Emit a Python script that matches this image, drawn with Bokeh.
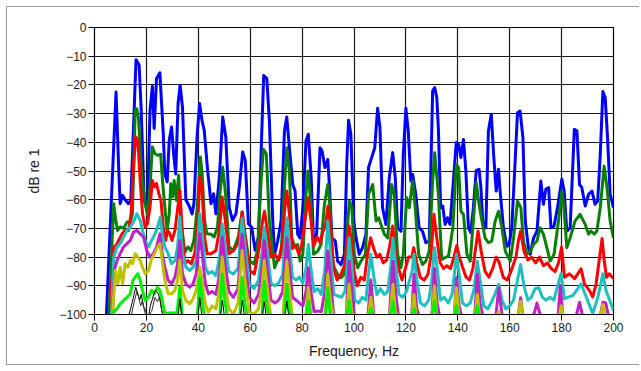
from bokeh.plotting import figure
from bokeh.models import Range1d, FixedTicker
from bokeh.embed import file_html
from bokeh.resources import INLINE

# ---- data: (frequency Hz, dB) vertices ----
blue = [(4.5,-102),(8.3,-22.5),(9.3,-48.6),(9.9,-61.4),(10.8,-58.5),(11.8,-60),(13.1,-61.4),(14.0,-60),
 (16.0,-11.2),(17.2,-13.1),(18.0,-28.8),(19.1,-59.7),(19.9,-62.6),(20.5,-59),(21.4,-28.8),(22.3,-20.5),
 (23.0,-35.2),(23.9,-17.8),(25.2,-15.8),(26.5,-37),(27.1,-51),(28.0,-53.8),(28.8,-39.3),(29.7,-34.7),
 (30.6,-45),(31.3,-51),(32.2,-26.5),(33.0,-20.1),(33.9,-27.7),(35.2,-60),(36.7,-62.6),(37.6,-65),
 (38.3,-61.4),(39.6,-37),(40.5,-26.5),(41.4,-32.3),(42.3,-35.9),(43.6,-49.8),(44.9,-61.4),(45.9,-57.9),
 (46.8,-64.9),(48.1,-52.2),(49.4,-31.2),(50.6,-38.2),(51.9,-62.6),(53.2,-67.2),(54.5,-64.9),(55.8,-55.6),
 (57.1,-43.4),(58.1,-46.3),(59.3,-68.4),(60.6,-69.6),(61.9,-77.6),(63.2,-73),(64.4,-38.2),(65.2,-16.7),
 (66.4,-17.8),(67.4,-32.6),(68.7,-67.4),(69.4,-79),(70.6,-74.4),(71.9,-67.4),(73.2,-36),(74.1,-31.2),
 (75.1,-41.9),(76.4,-54.7),(77.3,-57),(78.3,-72),(79.2,-73.3),(80.3,-62.8),(81.5,-39.5),(82.4,-37.2),
 (83.5,-52.3),(84.4,-74.4),(85.6,-72),(86.9,-41.9),(87.7,-43),(88.8,-48.8),(89.9,-46),(90.5,-54.7),
 (91.5,-73.3),(92.8,-74.4),(93.7,-81.4),(95.0,-82.6),(96.3,-79),(97.2,-47.7),(97.9,-32.3),(98.8,-37.2),
 (99.9,-67.4),(100.8,-73.3),(102.0,-79),(103.3,-76.7),(104.6,-72),(105.6,-48.8),(107.2,-44.2),(108.0,-41.9),
 (109.1,-28.1),(110.0,-34.9),(111.0,-62.8),(112.3,-68.6),(113.6,-52.3),(114.9,-43.6),(115.9,-52.3),
 (116.8,-69.8),(118.1,-71),(119.0,-44.2),(120.0,-28.1),(120.9,-36),(121.9,-53.5),(122.6,-51.2),
 (123.8,-58.1),(125.1,-69.8),(126.4,-71),(127.7,-75),(129.0,-74.4),(130.3,-22.1),(131.1,-20.9),
 (131.9,-24.4),(132.5,-34.9),(133.4,-62.8),(134.2,-62.2),(135.1,-68.6),(136.0,-66.3),(137.0,-68.6),
 (138.3,-53.5),(139.4,-40.1),(140.3,-40.7),(141.2,-45.3),(142.2,-39),(143.1,-50),(144.1,-69.8),
 (145.0,-71.5),(146.0,-62.8),(147.1,-49.8),(148.2,-49.4),(148.9,-55.8),(149.6,-67.4),(150.8,-69.8),
 (151.8,-36),(152.9,-30.2),(153.8,-44.2),(154.8,-57),(155.7,-49.4),(156.3,-57),(157.6,-69.8),
 (158.9,-76.2),(159.8,-75.6),(160.8,-69.8),(162.1,-46.5),(163.0,-29.7),(164.0,-29.1),(165.1,-38.4),
 (166.0,-67.4),(167.2,-76.7),(167.9,-79),(169.2,-73.3),(170.5,-71),(172.0,-53.5),(173.0,-61.6),
 (173.9,-56.4),(175.0,-55.8),(175.9,-69.8),(177.1,-69.2),(178.4,-62.8),(180.1,-52.9),(181.0,-57),
 (182.0,-71),(183.3,-69.8),(184.9,-35.5),(185.9,-36),(186.9,-54.7),(187.8,-55.8),(189.1,-62.2),
 (190.4,-58.1),(191.7,-57),(192.9,-61.6),(193.9,-60.5),(194.9,-44.2),(195.9,-22.3),(196.8,-24.4),
 (197.7,-38.4),(198.7,-58.1),(200.0,-62.8)]

green = [(5.5,-102),(7.4,-61.4),(8.3,-67.8),(8.9,-70.7),(9.9,-69.5),(11.2,-70),(12.5,-67.8),(13.8,-67.8),
 (14.6,-65),(15.7,-28.8),(16.3,-28.3),(16.9,-31.2),(18.2,-51),(19.5,-61.4),(20.4,-65),(21.4,-55.6),
 (22.3,-41.6),(23.3,-44),(24.3,-44.5),(25.5,-44.2),(26.2,-53.3),(27.1,-62.6),(28.0,-70.7),(28.8,-65),
 (29.4,-54.4),(30.1,-59),(30.7,-53.3),(31.6,-60.2),(32.4,-51.5),(33.2,-67.2),(33.9,-71.9),(34.8,-78.3),
 (36.0,-76.5),(37.1,-77.7),(38.3,-74.2),(39.6,-62.6),(40.8,-45.1),(41.5,-51),(42.4,-67.2),(43.3,-71.9),
 (44.9,-72),(46.1,-73),(47.4,-69.6),(48.3,-58),(49.4,-48.7),(50.5,-58),(51.8,-76.5),(53.5,-77.7),
 (55.4,-73),(56.9,-64.3),(58.0,-71.9),(59.5,-81.2),(61.5,-82.4),(62.8,-77.7),(64.2,-53.3),(65.1,-42.4),
 (66.2,-44),(67.4,-67.4),(69.4,-83.7),(70.6,-80.8),(71.9,-79),(73.2,-55.8),(74.1,-41.9),(75.1,-50),
 (76.0,-73.3),(77.1,-76.2),(78.3,-75.6),(79.2,-81.4),(80.3,-79),(81.5,-58.1),(82.3,-50),(83.5,-62.8),
 (84.4,-79),(86.0,-78),(87.3,-75.6),(88.6,-61.6),(89.9,-54.7),(90.8,-62.8),(91.8,-82.6),(93.7,-86),
 (95.0,-87.2),(96.3,-86),(97.2,-73.3),(98.2,-60.5),(99.2,-62.8),(100.1,-79),(101.4,-83.7),(102.7,-81.4),
 (104.4,-79),(105.6,-58.1),(107.2,-54.7),(108.5,-67.4),(109.5,-66.3),(110.4,-68.6),(111.7,-72),
 (113.0,-73.3),(114.5,-54.7),(115.5,-58.1),(116.8,-79),(118.1,-83.7),(119.0,-79),(120.3,-59.3),
 (121.3,-62.8),(122.6,-53.5),(123.6,-62.8),(124.9,-79),(126.4,-82.6),(127.7,-81.4),(129.0,-77.9),
 (130.3,-53.5),(131.1,-43.6),(132.5,-58),(133.8,-80.8),(135.1,-80.2),(136.4,-79.7),(138.1,-69.8),
 (139.4,-47.7),(140.3,-48.8),(141.2,-64),(142.2,-65.1),(143.5,-79),(144.8,-81.4),(146.0,-67.4),
 (147.1,-54),(148.2,-61.6),(149.3,-67.4),(150.5,-73.3),(151.8,-75),(153.1,-74.4),(154.4,-67.4),
 (155.7,-64),(157.0,-69.8),(158.3,-77.9),(160.2,-81.4),(161.5,-73.3),(163.0,-60.5),(164.3,-62.8),
 (165.3,-74.4),(166.6,-79),(167.9,-77.9),(169.2,-75.6),(170.5,-74.4),(171.7,-69.8),(173.0,-72),
 (174.3,-76.7),(175.6,-81.4),(177.1,-79),(178.8,-67.4),(180.1,-57),(181.0,-64),(182.0,-76.7),
 (183.3,-73.3),(185.2,-67.4),(187.1,-65.1),(189.1,-68.6),(190.4,-72),(191.3,-70.9),(192.6,-72),
 (193.6,-70.9),(194.9,-62.8),(196.4,-48.3),(197.5,-55.8),(198.7,-67.4),(200.0,-73.3)]

red = [(6.0,-102),(7.4,-76.5),(8.3,-76),(9.3,-74.2),(10.6,-71.9),(11.8,-70.7),(13.1,-70.7),(14.1,-64.9),
 (15.0,-48.6),(15.9,-38.1),(16.7,-39.3),(17.6,-53.3),(18.5,-64.9),(19.5,-69.5),(20.4,-68.4),(21.4,-62.6),
 (22.3,-53.3),(23.1,-55.6),(23.9,-54.4),(24.8,-57.9),(25.6,-60.2),(26.5,-69.5),(27.4,-74.2),(28.2,-70.7),
 (29.0,-71.9),(29.9,-74.2),(31.0,-70.7),(31.8,-64.9),(32.9,-56.7),(33.8,-70.7),(34.8,-82.3),(36.0,-81.2),
 (37.3,-82.3),(38.6,-78.8),(39.6,-71.9),(40.6,-51.9),(41.4,-55.6),(42.4,-73),(43.4,-78.8),(44.9,-78.8),
 (46.8,-77.7),(48.2,-70),(49.2,-59.1),(50.4,-67.2),(51.8,-78.8),(53.6,-77.7),(55.5,-75),(56.9,-64.3),
 (58.0,-73),(59.8,-84.7),(61.6,-85.9),(63.5,-76.5),(64.8,-67.2),(65.5,-64),(66.8,-72),(68.0,-80),
 (69.5,-79),(71.0,-81),(72.4,-75),(73.3,-63),(74.1,-57),(75.1,-65),(76.3,-77),(77.5,-76),(78.8,-79),
 (79.8,-76),(81.3,-66),(82.4,-59.3),(83.4,-67),(84.5,-76),(85.8,-73),(87.0,-75),(88.0,-71),(89.0,-69),
 (90.0,-62.2),(91.0,-70),(92.2,-84),(93.5,-88),(95.0,-86),(96.3,-83),(97.2,-76),(98.1,-69.2),(99.0,-74),
 (100.0,-85),(101.3,-90),(102.6,-87),(104.0,-88),(105.2,-79),(106.4,-73.3),(107.6,-77),(108.8,-80),
 (110.0,-79),(111.2,-82),(112.6,-81),(113.8,-76),(114.9,-69.2),(116.0,-78),(117.2,-84),(118.5,-88),
 (119.8,-84),(121.0,-80),(122.3,-80),(123.0,-76.7),(124.2,-82),(125.5,-87),(127.0,-88),(128.5,-86),
 (129.6,-80),(130.8,-65.1),(132.0,-74),(133.2,-82),(134.5,-84),(135.8,-83),(137.2,-84),(138.5,-80),
 (139.6,-76),(140.6,-80),(142.0,-84),(143.2,-87),(144.5,-88),(145.8,-84),(147.0,-76),(147.8,-70.9),
 (149.0,-78),(150.5,-85),(152.0,-87),(153.4,-84),(154.8,-80),(156.0,-82),(157.5,-87),(159.0,-88),
 (160.5,-85),(162.4,-80),(163.4,-74),(164.2,-70.9),(165.5,-78),(167.0,-81),(168.4,-80),(170.0,-82),
 (171.5,-80),(173.0,-83),(174.5,-82),(176.0,-84),(177.5,-85),(178.8,-82),(180.0,-76.5),(181.1,-87),
 (183.0,-85.8),(185.0,-87.5),(187.5,-84.1),(188.8,-89.3),(190.7,-91.6),(192.0,-93.9),(193.3,-89.3),
 (195.6,-73.5),(196.4,-81.1),(197.3,-87),(198.4,-85.8),(200.0,-87.5)]

cyan = [(6.5,-102),(7.4,-80),(8.7,-76.5),(9.9,-75.3),(11.2,-73),(12.5,-70.7),(13.8,-69.5),(15.0,-67.8),
 (16.3,-64.9),(17.6,-67.2),(18.5,-70.7),(19.5,-74.2),(20.8,-76.5),(22.0,-74.2),(23.3,-71.9),(24.3,-69.5),
 (25.4,-66),(26.1,-71.9),(27.1,-76.5),(28.4,-78.8),(29.7,-82.3),(31.0,-81.2),(32.0,-76.5),(32.9,-66),
 (33.9,-78.8),(35.2,-83.5),(36.7,-84.7),(38.0,-83.5),(39.2,-81.2),(40.6,-64.9),(41.5,-71.9),(42.7,-83.5),
 (43.9,-85.8),(45.3,-85),(46.8,-86.5),(48.2,-80),(49.2,-68.4),(50.3,-76),(51.8,-85),(53.5,-85.9),
 (55.3,-84),(56.9,-66.5),(58.0,-76),(59.6,-89),(61.5,-91),(63.2,-88),(64.6,-78),(65.4,-69.6),(66.6,-78),
 (68.0,-89),(69.5,-90),(71.0,-89),(72.5,-86),(73.4,-74),(74.1,-66.3),(75.0,-75),(76.3,-87),(77.7,-88),
 (79.0,-87),(80.3,-89),(81.5,-84),(82.4,-75.6),(83.4,-84),(84.6,-92),(86.0,-91),(87.4,-93),(88.8,-84),
 (89.9,-67.4),(90.9,-78),(92.2,-93),(93.7,-93.5),(95.2,-94),(96.5,-92),(97.3,-84),(98.1,-73.3),(99.1,-82),
 (100.3,-95),(101.8,-96),(103.2,-94),(104.6,-95),(105.6,-86),(106.5,-79),(107.5,-86),(108.8,-93),
 (110.2,-91),(111.6,-93),(113.0,-92),(114.2,-83),(115.0,-73.3),(116.0,-82),(117.3,-93),(118.8,-94),
 (120.2,-92),(121.4,-88),(122.4,-85),(123.1,-79),(124.2,-88),(125.6,-96),(127.2,-97),(128.8,-95),
 (130.0,-88),(131.0,-76.7),(132.2,-85),(133.3,-95),(134.8,-94),(136.3,-96),(137.8,-93),(138.8,-85),
 (139.5,-79),(140.5,-86),(141.8,-96),(143.3,-97),(144.8,-96),(146.3,-91),(147.5,-81.4),(148.6,-88),
 (150.0,-97),(151.5,-98),(152.8,-96),(154.3,-93),(155.8,-89.5),(157.0,-95),(158.5,-98),(160.0,-97),
 (161.5,-95),(163.0,-88),(164.2,-82.6),(165.5,-90),(167.0,-95),(168.3,-94),(169.8,-91),(171.2,-90.7),
 (172.6,-94),(174.0,-95),(175.5,-94),(177.0,-95),(178.5,-90),(179.8,-85.8),(181.1,-94.5),(184.4,-93.3),
 (187.5,-89.3),(189.5,-93.9),(192.0,-99.7),(194.0,-93.9),(195.9,-85.8),(197.1,-91.6),(200.0,-98.6)]

magenta = [(6.8,-102),(7.8,-84),(8.7,-81.2),(9.9,-78.8),(11.2,-76.5),(12.5,-75.3),(13.8,-74.2),
 (15.0,-71.3),(16.3,-70.7),(17.6,-71.9),(18.9,-73),(20.1,-77.7),(21.4,-80),(22.7,-78.8),(23.9,-76.5),
 (25.2,-71.9),(26.1,-78.8),(27.1,-83.5),(28.4,-88.1),(29.7,-89.3),(31.0,-87),(32.0,-82.3),(32.9,-74.2),
 (33.9,-85.8),(35.2,-89.3),(36.7,-90.5),(38.0,-89.3),(39.2,-85.8),(40.6,-71.9),(41.5,-78.8),(42.7,-89.3),
 (43.9,-92.8),(45.3,-92),(46.8,-93),(48.2,-86),(49.2,-73),(50.3,-82),(51.8,-92),(53.5,-94),(55.3,-91),
 (56.9,-72),(58.0,-82),(59.6,-94),(61.5,-96),(63.2,-93),(64.6,-84),(65.4,-74.2),(66.6,-84),(68.0,-95),
 (69.5,-96),(71.0,-95),(72.5,-92),(73.4,-82),(74.1,-73.3),(75.0,-82),(76.3,-94),(77.7,-95),(79.0,-96),
 (80.3,-97),(81.5,-92),(82.4,-83.7),(83.4,-92),(84.6,-99),(86.0,-98.8),(87.4,-99),(88.8,-92),(89.9,-77.9),
 (90.9,-87),(92.2,-101),(97.0,-101),(98.1,-81.4),(99.1,-91),(100.3,-102),(105.3,-101),(106.5,-88),
 (107.6,-100),(108.8,-102),(113.6,-101),(115.0,-81.4),(116.0,-92),(117.3,-102),(122.2,-101),(123.1,-86),
 (124.2,-98),(125.5,-102),(130.0,-100),(131.0,-84),(132.0,-96),(133.3,-102),(138.6,-101),(139.5,-87.2),
 (140.5,-97),(141.8,-102),(146.5,-101),(147.5,-86),(148.6,-96),(150.0,-102),(154.6,-101),(155.8,-90.7),
 (157.0,-100),(158.5,-102),(163.2,-101),(164.2,-94.2),(165.2,-101),(169.0,-101),(170.5,-96),(172.0,-101),
 (178.6,-101),(179.5,-89.9),(180.5,-101),(185.5,-101),(186.9,-95.7),(188.2,-101),(194.8,-101),
 (195.9,-95.7),(197.0,-96),(198.2,-101),(200.0,-102)]

olive = [(6.8,-102),(8.0,-84.7),(9.0,-89.3),(9.9,-83.5),(10.8,-89.3),(11.8,-82.3),(12.9,-83.5),(13.8,-81.2),
 (14.6,-82.3),(15.7,-78.8),(16.7,-80),(17.6,-81.2),(18.5,-83.5),(19.5,-85.8),(20.8,-84.7),(21.8,-81.2),
 (23.1,-78.8),(24.3,-76.5),(25.2,-75.3),(26.1,-81.2),(27.1,-88.1),(28.4,-92.8),(29.7,-92.8),(31.0,-91.6),
 (32.0,-88.1),(32.9,-81.2),(33.9,-91.6),(35.2,-95.1),(36.7,-96.3),(38.0,-94.5),(39.2,-91.6),(40.6,-83.5),
 (41.5,-88.1),(42.7,-96.3),(43.9,-99.2),(45.3,-97),(46.8,-98),(48.2,-91),(49.2,-80),(50.3,-89),(51.8,-98),
 (53.5,-100),(55.3,-96),(56.9,-77.7),(58.0,-88),(59.6,-99),(61.5,-100),(63.2,-98),(64.6,-90),(65.4,-81.2),
 (66.6,-91),(68.0,-101),(72.6,-101),(73.4,-90),(74.1,-81.4),(75.0,-90),(76.3,-101),(81.4,-101),
 (82.4,-90.7),(83.4,-100),(84.5,-102),(88.8,-101),(89.9,-86),(90.9,-95),(92.2,-102),(97.1,-101),
 (98.1,-89.5),(99.1,-99),(100.3,-102),(105.5,-101),(106.5,-94),(107.5,-101),(113.8,-101),(115.0,-89.5),
 (116.0,-99),(117.3,-102),(122.2,-101),(123.1,-93),(124.0,-101),(130.0,-101),(131.0,-90),(132.0,-101),
 (138.6,-101),(139.5,-90.7),(140.5,-101),(146.6,-101),(147.5,-93),(148.5,-101),(154.8,-101),
 (155.8,-98.8),(156.8,-101),(163.3,-101),(164.2,-95.5),(165.2,-101),(179.0,-101),(179.8,-97),
 (180.7,-101),(195.0,-101),(195.9,-96.5),(196.9,-101),(200.0,-102)]

lime = [(7.0,-102),(7.4,-99),(8.7,-98),(9.9,-96.3),(11.2,-95.1),(12.5,-94),(13.8,-92.8),(14.8,-88.1),
 (15.7,-87),(16.7,-85.8),(17.6,-88.1),(18.5,-91.6),(19.5,-95.1),(20.8,-94),(22.0,-91.6),(23.1,-92.8),
 (24.3,-90.5),(25.2,-91.6),(26.1,-95.1),(27.1,-99.5),(31.8,-99.5),(32.9,-90.5),(33.9,-101),(39.6,-101),
 (40.6,-87),(41.5,-95),(42.4,-101),(48.3,-101),(49.2,-85.9),(50.2,-95),(51.2,-101),(56.0,-101),
 (56.9,-87),(57.9,-96),(58.9,-101),(64.5,-101),(65.4,-88.2),(66.4,-97),(67.4,-101),(73.2,-101),
 (74.1,-89.5),(75.0,-98),(76.0,-101),(81.5,-101),(82.4,-95.3),(83.3,-101),(89.0,-101),(89.9,-90.7),
 (90.9,-101),(97.2,-101),(98.1,-95.3),(99.0,-101),(105.6,-101),(106.5,-98),(107.4,-101),(114.1,-101),
 (115.0,-95.3),(115.9,-101),(122.2,-101),(123.1,-98),(124.0,-101),(130.1,-101),(131.0,-95.3),
 (132.0,-101),(138.6,-101),(139.5,-97),(140.4,-101),(146.6,-101),(147.5,-97),(148.4,-101),(200.0,-102)]

black_a = [(13.0,-101),(14.2,-97),(15.0,-94),(15.9,-90.5),(16.7,-92.8),(17.4,-95),(18.0,-93),(18.8,-97),
 (19.8,-99),(20.8,-101),(21.5,-97),(22.2,-95),(23.0,-92.5),(23.6,-91.6),(24.6,-92.8),(25.3,-95),
 (26.0,-99),(26.8,-101),(32.2,-101),(32.9,-94.5),(33.6,-101),(39.8,-101),(40.6,-94),(41.4,-101),
 (48.5,-101),(49.3,-95),(50.1,-101),(56.2,-101),(57.0,-95),(57.8,-101),(64.6,-101),(65.4,-95.5),
 (66.2,-101),(73.3,-101),(74.1,-95.3),(74.9,-101),(200.0,-102)]

black_b = [(14.0,-101),(15.2,-96),(16.3,-92),(17.0,-94),(17.8,-97),(18.5,-95),(19.3,-99),(20.2,-101),
 (22.0,-99),(23.3,-94),(24.2,-95.5),(25.0,-94),(25.8,-98),(26.5,-101)]

x_ticks = [0, 20, 40, 60, 80, 100, 120, 140, 160, 180, 200]
y_ticks = [-100, -90, -80, -70, -60, -50, -40, -30, -20, -10, 0]

series = [
    (blue, "#0000ff", 3.0),
    (green, "#088008", 3.0),
    (red, "#ff0000", 3.0),
    (cyan, "#1cc0c0", 3.0),
    (magenta, "#c020c8", 3.0),
    (olive, "#c0c000", 3.0),
    (lime, "#00f000", 3.0),
    (black_a, "#000000", 1.0),
    (black_b, "#303030", 1.0),
]

p = figure(frame_width=519, frame_height=287, min_border_left=87, min_border_right=26,
           min_border_top=20, min_border_bottom=50, output_backend="svg",
           toolbar_location=None, x_range=Range1d(0, 200), y_range=Range1d(-100, 0))
p.styles = {"margin-left": "6px", "margin-top": "6px",
            "border-left": "1px solid #9a9a9a", "border-top": "1px solid #9a9a9a",
            "border-bottom": "1px solid #9a9a9a"}

for pts, col, w in series:
    xs = [q[0] for q in pts]
    ys = [q[1] for q in pts]
    p.line(xs, ys, line_color=col, line_width=w, line_join="round")

p.xaxis.ticker = FixedTicker(ticks=x_ticks)
p.yaxis.ticker = FixedTicker(ticks=y_ticks)
for ax in (p.xaxis[0], p.yaxis[0]):
    ax.major_label_text_font = "Liberation Sans"
    ax.major_label_text_font_size = "12px"
    ax.major_label_text_color = "#1a1a1a"
    ax.axis_label_text_font = "Liberation Sans"
    ax.axis_label_text_font_size = "14px"
    ax.axis_label_text_font_style = "normal"
    ax.axis_label_text_color = "#1a1a1a"
    ax.axis_line_color = "#000000"
    ax.major_tick_line_color = "#000000"
    ax.major_tick_out = 6
    ax.major_tick_in = 0
    ax.minor_tick_line_color = None
    ax.major_label_standoff = 2
p.xaxis.axis_label = "Frequency, Hz"
p.yaxis.axis_label = "dB re 1"
p.xaxis.axis_label_standoff = 8
p.yaxis.axis_label_standoff = 14

p.xgrid.ticker = FixedTicker(ticks=x_ticks)
p.ygrid.ticker = FixedTicker(ticks=y_ticks)
for g in (p.xgrid[0], p.ygrid[0]):
    g.grid_line_color = "#1a1a1a"
    g.grid_line_width = 1.2
p.outline_line_color = "#000000"
p.outline_line_width = 1.2
p.background_fill_color = "white"
p.border_fill_color = "white"

open("out.html", "w").write(file_html(p, INLINE))
